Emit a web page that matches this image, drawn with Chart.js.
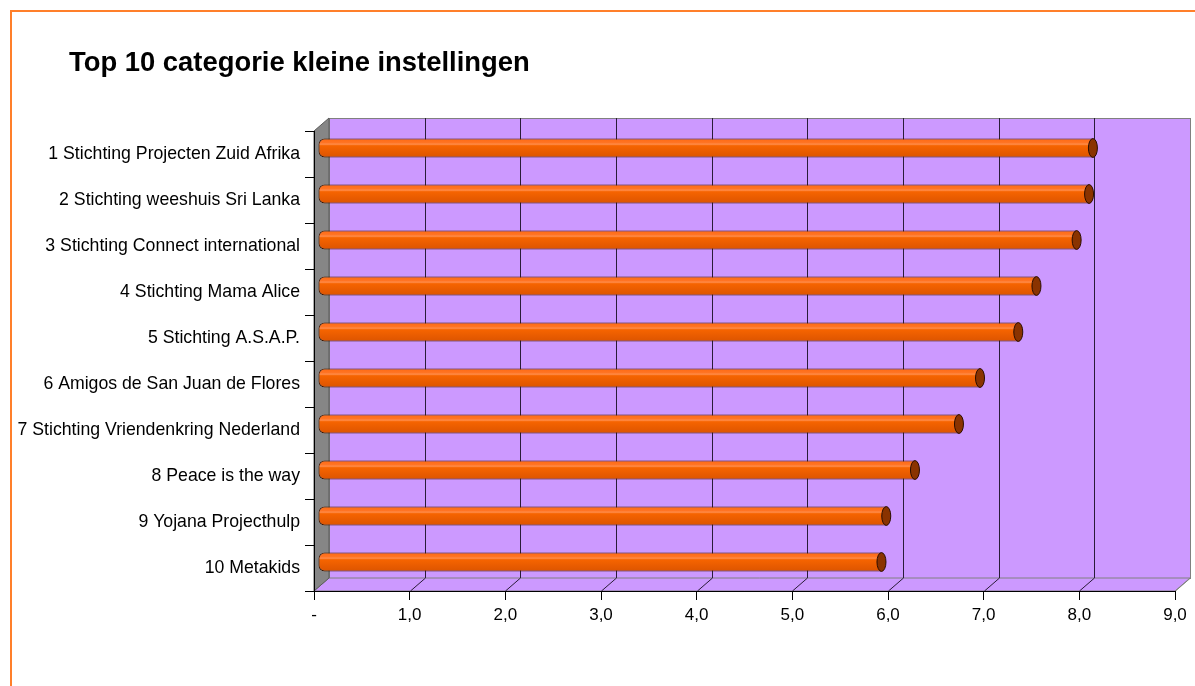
<!DOCTYPE html>
<html>
<head>
<meta charset="utf-8">
<script src="https://cdn.jsdelivr.net/npm/chart.js@4.4.1/dist/chart.umd.min.js"></script>
<style>
    html, body { margin: 0; padding: 0; background: #fff; overflow: hidden; }
    #wrap { position: relative; width: 1195px; height: 686px; }
    #frame { position: absolute; left: 10px; top: 10px; width: 1300px; height: 800px; border: 2px solid #ff7f2a; box-sizing: border-box; }
    #title { position: absolute; left: 69px; top: 46px; line-height: 27px; font: bold 27.4px 'Liberation Sans', Arial, sans-serif; color: #000; white-space: nowrap; }
    canvas { position: absolute; left: 0; top: 0; }
</style>
</head>
<body>
<div id="wrap">
    <div id="frame"></div>
    <canvas id="scoreChart" width="1195" height="686"></canvas>
    <div id="title">Top 10 categorie kleine instellingen</div>
</div>
<script>
// Data
const categories = [
    '1 Stichting Projecten Zuid Afrika',
    '2 Stichting weeshuis Sri Lanka',
    '3 Stichting Connect international',
    '4 Stichting Mama Alice',
    '5 Stichting A.S.A.P.',
    '6 Amigos de San Juan de Flores',
    '7 Stichting Vriendenkring Nederland',
    '8 Peace is the way',
    '9 Yojana Projecthulp',
    '10 Metakids'
];
const scores = [8.10, 8.06, 7.93, 7.51, 7.32, 6.92, 6.70, 6.24, 5.94, 5.89];
const axisMin = 0;
const axisMax = 9;

const FONT = "'Liberation Sans', Arial, sans-serif";

// 3D look: back wall / floor offset and bar offset (pixels)
const DEPTH_X = 15, DEPTH_Y = -13;
const BAR_DX = 4, BAR_DY = -6;

// Walls, floor and back gridlines
const wallsPlugin = {
    id: 'walls',
    beforeDraw(chart) {
        const { ctx, scales: { x, y } } = chart;
        const L = x.getPixelForValue(axisMin), R = x.getPixelForValue(axisMax);
        const T = y.top, B = y.bottom;
        ctx.save();

        // back wall
        ctx.fillStyle = '#cc99ff';
        ctx.fillRect(L + DEPTH_X, T + DEPTH_Y, R - L, B - T);
        ctx.strokeStyle = '#808080';
        ctx.lineWidth = 1;
        ctx.strokeRect(Math.round(L + DEPTH_X) + 0.5, Math.round(T + DEPTH_Y) + 0.5, R - L, B - T);

        // floor
        ctx.beginPath();
        ctx.moveTo(L, B);
        ctx.lineTo(L + DEPTH_X, B + DEPTH_Y);
        ctx.lineTo(R + DEPTH_X, B + DEPTH_Y);
        ctx.lineTo(R, B);
        ctx.closePath();
        ctx.fillStyle = '#cc99ff';
        ctx.fill();
        ctx.strokeStyle = '#808080';
        ctx.stroke();

        // side wall
        ctx.beginPath();
        ctx.moveTo(L, T);
        ctx.lineTo(L + DEPTH_X, T + DEPTH_Y);
        ctx.lineTo(L + DEPTH_X, B + DEPTH_Y);
        ctx.lineTo(L, B);
        ctx.closePath();
        ctx.fillStyle = '#868686';
        ctx.fill();
        ctx.strokeStyle = '#5a5a5a';
        ctx.stroke();

        // gridlines on back wall + floor diagonals
        for (let v = axisMin + 1; v <= axisMax; v++) {
            const px = Math.round(x.getPixelForValue(v)) + 0.5;
            const last = v === axisMax;
            ctx.strokeStyle = last ? '#808080' : '#2a1c38';
            ctx.beginPath();
            if (!last) {
                ctx.moveTo(px + DEPTH_X, T + DEPTH_Y);
                ctx.lineTo(px + DEPTH_X, B + DEPTH_Y);
            }
            ctx.moveTo(px, B);
            ctx.lineTo(px + DEPTH_X, B + DEPTH_Y);
            ctx.stroke();
        }
        ctx.restore();
    },
    beforeDatasetsDraw(chart) {
        chart.ctx.save();
        chart.ctx.translate(BAR_DX, BAR_DY);
    },
    afterDatasetsDraw(chart) {
        const ctx = chart.ctx;
        // end caps of the cylinders
        chart.getDatasetMeta(0).data.forEach(bar => {
            const ry = bar.height / 2;
            ctx.beginPath();
            ctx.ellipse(bar.x, bar.y, 4.5, ry, 0, 0, Math.PI * 2);
            ctx.fillStyle = '#8a3300';
            ctx.fill();
            ctx.strokeStyle = '#2a0d00';
            ctx.lineWidth = 1;
            ctx.stroke();
        });
        ctx.restore();
    }
};

function barGradient(c) {
    const chart = c.chart;
    if (!chart.chartArea) return '#f06000';
    const yc = chart.scales.y.getPixelForValue(c.dataIndex);
    const h = 19;
    const g = chart.ctx.createLinearGradient(0, yc - h / 2, 0, yc + h / 2);
    g.addColorStop(0, '#ff6a10');
    g.addColorStop(0.22, '#ff7424');
    g.addColorStop(0.3, '#ff8c4a');
    g.addColorStop(0.38, '#f66400');
    g.addColorStop(1, '#dc5400');
    return g;
}

const ctx = document.getElementById('scoreChart').getContext('2d');
new Chart(ctx, {
    type: 'bar',
    data: {
        labels: categories,
        datasets: [{
            data: scores,
            backgroundColor: barGradient,
            borderColor: '#3a1400',
            borderWidth: 1,
            borderSkipped: false,
            borderRadius: { topLeft: 6, bottomLeft: 6, topRight: 0, bottomRight: 0 },
            barPercentage: 0.41,
            categoryPercentage: 1,
            clip: false
        }]
    },
    options: {
        indexAxis: 'y',
        responsive: false,
        animation: false,
        layout: { padding: { top: 131, right: 20, bottom: 0, left: 0 } },
        scales: {
            x: {
                min: axisMin,
                max: axisMax,
                ticks: {
                    stepSize: 1,
                    color: '#000',
                    padding: 5,
                    maxRotation: 0,
                    font: { family: FONT, size: 17 },
                    callback: v => v === 0 ? '-' : v.toFixed(1).replace('.', ',')
                },
                grid: { drawOnChartArea: false, drawTicks: true, tickLength: 9, color: '#000' },
                border: { color: '#000', width: 1 },
                afterFit: s => { s.height = 95; }
            },
            y: {
                ticks: {
                    color: '#000',
                    padding: 5,
                    font: { family: FONT, size: 17.7 }
                },
                grid: { drawOnChartArea: false, drawTicks: true, tickLength: 9, color: '#000', offset: true },
                border: { color: '#000', width: 1 },
                afterFit: s => { s.width = 314; }
            }
        },
        plugins: {
            legend: { display: false },
            tooltip: { enabled: false },
            title: { display: false }
        }
    },
    plugins: [wallsPlugin]
});
</script>
</body>
</html>
